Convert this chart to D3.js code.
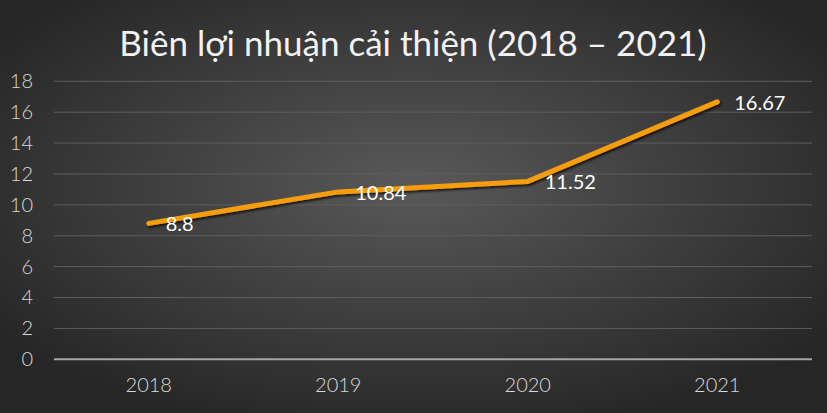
<!DOCTYPE html>
<html lang="vi">
<head>
    <meta charset="UTF-8">
    <title>Biên lợi nhuận</title>
    <script src="https://d3js.org/d3.v7.min.js"></script>
    <style>
        body { margin: 0; padding: 0; background: #2b2b2b; }
        svg { display: block; }
        .title { font-family: Lato, "Open Sans", sans-serif; font-size: 35px; fill: #f2f2f2; }
        .tick text { font-family: Lato, "Open Sans", sans-serif; font-size: 20px; fill: #d9d9d9; font-weight: 300; }
        .label { font-family: Lato, "Open Sans", sans-serif; font-size: 20px; fill: #ffffff; }
    </style>
</head>
<body>
<div id="chart"></div>
<script>
    const years = ["2018", "2019", "2020", "2021"];
    const margins = [8.8, 10.84, 11.52, 16.67];
    const yTicks = [0, 2, 4, 6, 8, 10, 12, 14, 16, 18];

    const width = 827, height = 413;
    const plotLeft = 54, plotRight = 812, plotTop = 81.3, plotBottom = 359.3;

    const svg = d3.select("#chart").append("svg")
        .attr("width", width)
        .attr("height", height);

    const defs = svg.append("defs");
    const grad = defs.append("radialGradient")
        .attr("id", "bg")
        .attr("cx", "50%").attr("cy", "45%").attr("r", "62%");
    grad.append("stop").attr("offset", "0%").attr("stop-color", "#595959");
    grad.append("stop").attr("offset", "100%").attr("stop-color", "#262626");

    const shadow = defs.append("filter").attr("id", "shadow")
        .attr("x", "-10%").attr("y", "-20%").attr("width", "120%").attr("height", "140%");
    shadow.append("feDropShadow")
        .attr("dx", 1.5).attr("dy", 2).attr("stdDeviation", 1.2)
        .attr("flood-color", "#000").attr("flood-opacity", 0.7);

    svg.append("rect")
        .attr("width", width).attr("height", height)
        .attr("fill", "url(#bg)");

    svg.append("text")
        .attr("class", "title")
        .attr("x", 413).attr("y", 56)
        .attr("text-anchor", "middle")
        .text("Biên lợi nhuận cải thiện (2018 – 2021)");

    const x = d3.scaleBand().domain(years).range([plotLeft, plotRight]);
    const y = d3.scaleLinear().domain([0, 18]).range([plotBottom, plotTop]);

    // gridlines
    svg.append("g")
        .selectAll("line")
        .data(yTicks.filter(d => d > 0))
        .join("line")
        .attr("x1", plotLeft).attr("x2", plotRight)
        .attr("y1", d => y(d)).attr("y2", d => y(d))
        .attr("stroke", "#5e5e5e")
        .attr("stroke-width", 1);

    // y axis labels
    const yAxis = svg.append("g")
        .attr("transform", `translate(${plotLeft - 21},0)`)
        .call(d3.axisLeft(y).tickValues(yTicks).tickSize(0).tickPadding(0));
    yAxis.select(".domain").remove();

    // x axis
    const xAxis = svg.append("g")
        .attr("transform", `translate(0,${plotBottom})`)
        .call(d3.axisBottom(x).tickSize(0).tickPadding(19));
    xAxis.select(".domain").remove();
    svg.append("line")
        .attr("x1", plotLeft).attr("x2", plotRight)
        .attr("y1", plotBottom).attr("y2", plotBottom)
        .attr("stroke", "#a6a6a6")
        .attr("stroke-width", 2);

    const line = d3.line()
        .x((d, i) => x(years[i]) + x.bandwidth() / 2)
        .y(d => y(d));

    svg.append("path")
        .datum(margins)
        .attr("d", line)
        .attr("fill", "none")
        .attr("stroke", "#f59d0e")
        .attr("stroke-width", 5)
        .attr("stroke-linejoin", "round")
        .attr("stroke-linecap", "round")
        .attr("filter", "url(#shadow)");

    svg.append("g")
        .selectAll("text")
        .data(margins)
        .join("text")
        .attr("class", "label")
        .attr("x", (d, i) => x(years[i]) + x.bandwidth() / 2 + 17)
        .attr("y", d => y(d) + 1)
        .attr("dy", "0.35em")
        .text(d => d);
</script>
</body>
</html>
